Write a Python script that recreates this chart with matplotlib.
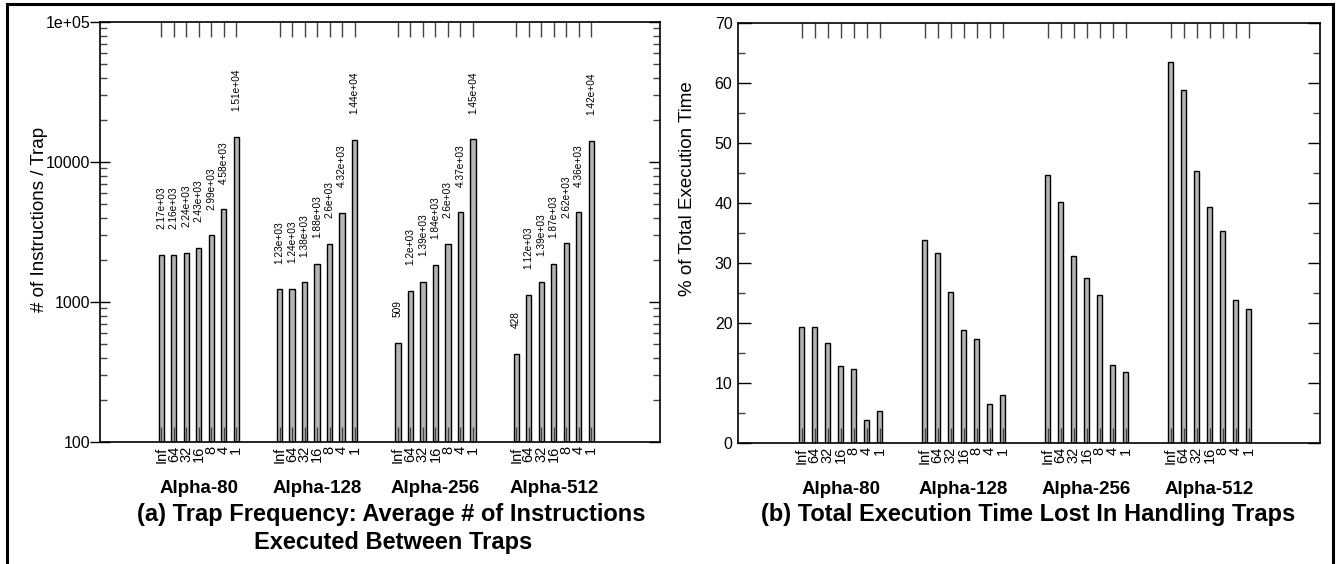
import matplotlib
matplotlib.use("Agg")
import matplotlib.pyplot as plt
import matplotlib.lines as mlines
from matplotlib.patches import Rectangle
from matplotlib.ticker import LogLocator, FixedLocator, NullFormatter, MultipleLocator
import numpy as np

plt.rcParams['font.family'] = ['Liberation Sans', 'DejaVu Sans']

groups = ["Alpha-80", "Alpha-128", "Alpha-256", "Alpha-512"]
sizes = ["Inf", "64", "32", "16", "8", "4", "1"]

instr_per_trap = {
    "Alpha-80":  [2170, 2160, 2240, 2430, 2990, 4580, 15100],
    "Alpha-128": [1230, 1240, 1380, 1880, 2600, 4320, 14400],
    "Alpha-256": [509, 1200, 1390, 1840, 2600, 4370, 14500],
    "Alpha-512": [428, 1120, 1390, 1870, 2620, 4360, 14200],
}
instr_labels = {
    "Alpha-80":  ["2.17e+03", "2.16e+03", "2.24e+03", "2.43e+03", "2.99e+03", "4.58e+03", "1.51e+04"],
    "Alpha-128": ["1.23e+03", "1.24e+03", "1.38e+03", "1.88e+03", "2.6e+03", "4.32e+03", "1.44e+04"],
    "Alpha-256": ["509", "1.2e+03", "1.39e+03", "1.84e+03", "2.6e+03", "4.37e+03", "1.45e+04"],
    "Alpha-512": ["428", "1.12e+03", "1.39e+03", "1.87e+03", "2.62e+03", "4.36e+03", "1.42e+04"],
}
pct_time = {
    "Alpha-80":  [19.4, 19.3, 16.6, 12.9, 12.4, 3.8, 5.4],
    "Alpha-128": [33.8, 31.6, 25.1, 18.8, 17.4, 6.5, 8.0],
    "Alpha-256": [44.7, 40.2, 31.2, 27.5, 24.6, 13.0, 11.8],
    "Alpha-512": [63.5, 58.9, 45.4, 39.4, 35.4, 23.8, 22.3],
}

W, H = 1338, 564
fig = plt.figure(figsize=(W / 100, H / 100), dpi=100)

stride = 9.46
nb = len(sizes)
xpos = [g * stride + np.arange(nb) for g in range(len(groups))]
allx = np.concatenate(xpos)
xlim = (-4.9, 3 * stride + 6 + 5.5)

bar_color = "#b4b4b4"
tick_col = "#444444"


def style(ax):
    ax.set_xlim(*xlim)
    ax.set_xticks(allx)
    ax.set_xticklabels(sizes * len(groups), rotation=90, fontsize=10.5)
    ax.tick_params(axis='x', which='major', direction='in', length=11, width=1,
                   color=tick_col, top=True, bottom=True, pad=3)
    for s in ax.spines.values():
        s.set_linewidth(1.2)
    for g, name in enumerate(groups):
        ax.text(xpos[g][3], -0.11, name, transform=ax.get_xaxis_transform(),
                ha='center', va='center', fontsize=13.5, fontweight='bold')


# Left panel
ax1 = fig.add_axes([100 / W, (H - 442) / H, 560 / W, 420 / H])
for g, name in enumerate(groups):
    vals = np.array(instr_per_trap[name], dtype=float)
    ax1.bar(xpos[g], vals - 100, width=0.42, bottom=100,
            color=bar_color, edgecolor='black', linewidth=1.0, zorder=1)
    for x, v, lab in zip(xpos[g], vals, instr_labels[name]):
        ax1.annotate(lab, (x, v), xytext=(0, 18.5), textcoords='offset points',
                     rotation=90, ha='center', va='bottom', fontsize=7.3)
ax1.set_yscale('log')
ax1.set_ylim(100, 1e5)
ax1.yaxis.set_major_locator(FixedLocator([100, 1000, 10000, 100000]))
ax1.set_yticklabels(["100", "1000", "10000", "1e+05"], fontsize=11.5)
ax1.yaxis.set_minor_locator(LogLocator(base=10, subs=np.arange(2, 10)))
ax1.yaxis.set_minor_formatter(NullFormatter())
ax1.tick_params(axis='y', which='major', direction='inout', length=14, width=1,
                left=True, right=True, pad=0)
ax1.tick_params(axis='y', which='minor', direction='in', length=5, width=1,
                color=tick_col, left=True, right=True)
for t in ax1.yaxis.get_major_ticks():
    t.tick2line.set_marker(mlines.TICKLEFT)
    t.tick2line.set_markersize(8)
ax1.set_ylabel("# of Instructions / Trap", fontsize=13.5)
ax1.yaxis.set_label_coords(-0.093, 0.53)
style(ax1)

# Right panel
ax2 = fig.add_axes([738 / W, (H - 443) / H, 582 / W, 420 / H])
for g, name in enumerate(groups):
    ax2.bar(xpos[g], pct_time[name], width=0.42,
            color=bar_color, edgecolor='black', linewidth=1.0, zorder=1)
ax2.set_ylim(0, 70)
ax2.yaxis.set_major_locator(MultipleLocator(10))
ax2.yaxis.set_minor_locator(MultipleLocator(5))
ax2.tick_params(axis='y', which='major', direction='in', length=9, width=1,
                left=True, right=True, labelsize=11.5, pad=4)
ax2.tick_params(axis='y', which='minor', direction='in', length=5, width=1,
                color=tick_col, left=True, right=True)
ax2.set_ylabel("% of Total Execution Time", fontsize=13.5)
ax2.yaxis.set_label_coords(-0.072, 0.606)
style(ax2)

# Titles
fig.text(391 / W, 1 - 515 / H, "(a) Trap Frequency: Average # of Instructions",
         ha='center', va='center', fontsize=17, fontweight='bold')
fig.text(393 / W, 1 - 542 / H, "Executed Between Traps",
         ha='center', va='center', fontsize=17, fontweight='bold')
fig.text(1028 / W, 1 - 515 / H, "(b) Total Execution Time Lost In Handling Traps",
         ha='center', va='center', fontsize=17, fontweight='bold')

# Outer frame
fig.add_artist(Rectangle((7 / W, -0.2), (1333 - 7) / W, 1.2 - 4 / H,
                         transform=fig.transFigure, fill=False,
                         edgecolor='black', linewidth=2.2))

fig.savefig("out.png", dpi=100)
